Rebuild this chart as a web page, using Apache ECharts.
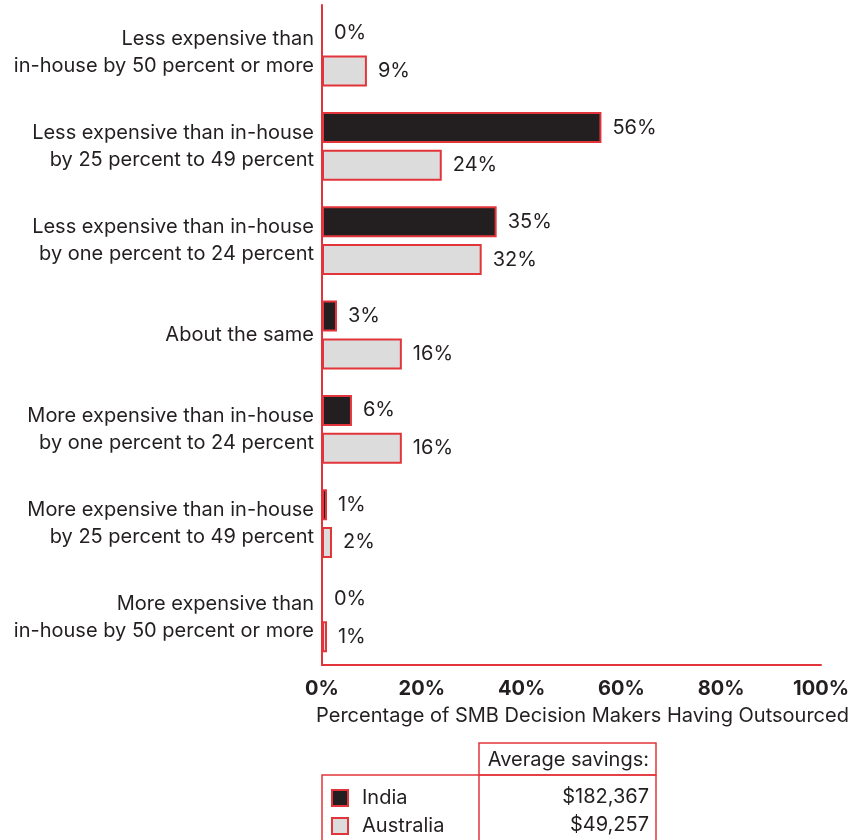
<!DOCTYPE html>
<html>
<head>
<meta charset="utf-8">
<script src="https://cdn.jsdelivr.net/npm/echarts@6/dist/echarts.min.js"></script>
<style>
  html, body { margin: 0; padding: 0; background: #ffffff; }
  #chart { width: 860px; height: 840px; }
</style>
</head>
<body>
<div id="chart"></div>
<script>
// Cost of outsourcing compared with doing the work in-house
const categories = [
  'Less expensive than\nin-house by 50 percent or more',
  'Less expensive than in-house\nby 25 percent to 49 percent',
  'Less expensive than in-house\nby one percent to 24 percent',
  'About the same',
  'More expensive than in-house\nby one percent to 24 percent',
  'More expensive than in-house\nby 25 percent to 49 percent',
  'More expensive than\nin-house by 50 percent or more'
];
const indiaValues = [0, 56, 35, 3, 6, 1, 0];
const australiaValues = [9, 24, 32, 16, 16, 2, 1];
const xTicks = [0, 20, 40, 60, 80, 100];
const seriesNames = ['India', 'Australia'];
const averageSavings = [182367, 49257];

const INK = '#231f20';
const RED = '#e2353b';
const FONT = 'Inter, "Liberation Sans", Arial, sans-serif';
const FS = 20;

const chart = echarts.init(document.getElementById('chart'), null, { renderer: 'canvas' });

function barSeries(name, values, fill) {
  return {
    name: name,
    type: 'bar',
    data: values,
    barWidth: 31,
    barGap: '22%',
    itemStyle: { color: fill, borderColor: RED, borderWidth: 2 },
    label: {
      show: true,
      position: 'right',
      distance: 11,
      formatter: p => p.value + '%',
      color: INK,
      fontSize: FS,
      fontFamily: FONT
    },
    emphasis: { disabled: true },
    animation: false
  };
}

const fmtMoney = v => '$' + v.toLocaleString('en-US');

chart.setOption({
  backgroundColor: '#ffffff',
  textStyle: { fontFamily: FONT },
  grid: { left: 322, right: 39, top: 5, bottom: 175, containLabel: false },
  xAxis: {
    type: 'value',
    min: xTicks[0],
    max: xTicks[xTicks.length - 1],
    interval: xTicks[1] - xTicks[0],
    axisLine: { show: true, lineStyle: { color: RED, width: 2 } },
    axisTick: { show: false },
    splitLine: { show: false },
    axisLabel: {
      formatter: '{value}%',
      color: INK,
      fontSize: FS,
      fontWeight: 'bold',
      fontFamily: FONT,
      margin: 14
    },
    name: 'Percentage of SMB Decision Makers Having Outsourced',
    nameLocation: 'middle',
    nameGap: 41,
    nameTextStyle: { color: INK, fontSize: FS, fontFamily: FONT, padding: [0, 0, 0, 22] }
  },
  yAxis: {
    type: 'category',
    data: categories,
    inverse: true,
    axisLine: { show: true, lineStyle: { color: RED, width: 2 } },
    axisTick: { show: false },
    axisLabel: {
      color: INK,
      fontSize: FS,
      lineHeight: 27,
      fontFamily: FONT,
      margin: 8,
      align: 'right'
    }
  },
  legend: {
    data: seriesNames,
    orient: 'vertical',
    left: 331,
    top: 788,
    padding: 0,
    itemWidth: 16,
    itemHeight: 16,
    itemGap: 8,
    icon: 'rect',
    selectedMode: false,
    textStyle: { color: INK, fontSize: FS, fontFamily: FONT, padding: [0, 0, 0, 9] }
  },
  graphic: [
    // savings table frame
    { type: 'polyline', shape: { points: [[322, 840], [322, 775], [656, 775]] },
      style: { stroke: RED, lineWidth: 1.5, fill: null }, silent: true },
    { type: 'rect', shape: { x: 479, y: 743, width: 177, height: 32 },
      style: { stroke: RED, lineWidth: 1.5, fill: null }, silent: true },
    { type: 'line', shape: { x1: 479, y1: 775, x2: 479, y2: 840 },
      style: { stroke: RED, lineWidth: 1.5 }, silent: true },
    { type: 'line', shape: { x1: 656, y1: 775, x2: 656, y2: 840 },
      style: { stroke: RED, lineWidth: 1.5 }, silent: true },
    { type: 'text', x: 649, y: 760,
      style: { text: 'Average savings:', fill: INK, font: FS + 'px ' + FONT, align: 'right', verticalAlign: 'middle' }, silent: true },
    { type: 'text', x: 649, y: 797,
      style: { text: fmtMoney(averageSavings[0]), fill: INK, font: FS + 'px ' + FONT, align: 'right', verticalAlign: 'middle' }, silent: true },
    { type: 'text', x: 649, y: 825,
      style: { text: fmtMoney(averageSavings[1]), fill: INK, font: FS + 'px ' + FONT, align: 'right', verticalAlign: 'middle' }, silent: true }
  ],
  series: [
    barSeries(seriesNames[0], indiaValues, INK),
    barSeries(seriesNames[1], australiaValues, '#dcdcdc')
  ],
  animation: false
});
</script>
</body>
</html>
